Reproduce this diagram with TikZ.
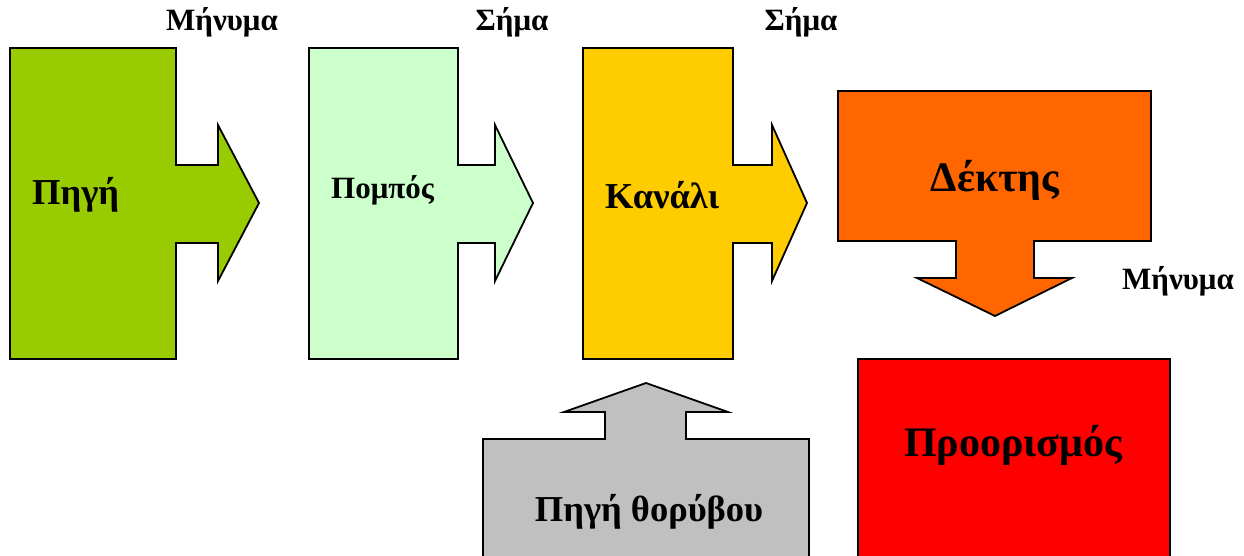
\documentclass[tikz,border=0pt]{standalone}
\usepackage{fontspec}
\setmainfont{Liberation Serif}
\begin{document}
\begin{tikzpicture}[x=1pt,y=-1pt,
  shp/.style={draw=black,line width=1.8pt,line join=miter},
  txt/.style={inner sep=0pt,font=\bfseries\fontsize{36.5}{40}\selectfont},
  lbl/.style={inner sep=0pt,font=\bfseries\fontsize{31}{34}\selectfont}]
\useasboundingbox (0,0) rectangle (1244,556);
\clip (0,0) rectangle (1244,556);
\definecolor{cgreen}{HTML}{99CC00}
\definecolor{clgreen}{HTML}{CCFFCC}
\definecolor{cyellow}{HTML}{FFCC00}
\definecolor{corange}{HTML}{FF6600}
\definecolor{cred}{HTML}{FF0000}
\definecolor{cgray}{HTML}{C0C0C0}
% source
\draw[shp,fill=cgreen] (10,48) -- (176,48) -- (176,165) -- (218,165) -- (218,125) -- (259,203) -- (218,281) -- (218,243) -- (176,243) -- (176,359) -- (10,359) -- cycle;
% transmitter
\draw[shp,fill=clgreen] (309,48) -- (458,48) -- (458,165) -- (495,165) -- (495,125) -- (533,203) -- (495,281) -- (495,243) -- (458,243) -- (458,359) -- (309,359) -- cycle;
% channel
\draw[shp,fill=cyellow] (583,48) -- (733,48) -- (733,165) -- (772,165) -- (772,125) -- (807,203) -- (772,281) -- (772,243) -- (733,243) -- (733,359) -- (583,359) -- cycle;
% receiver
\draw[shp,fill=corange] (838,91) -- (1151,91) -- (1151,241) -- (1034,241) -- (1034,278) -- (1072,278) -- (995,316) -- (917,278) -- (956,278) -- (956,241) -- (838,241) -- cycle;
% destination
\draw[shp,fill=cred] (858,359) rectangle (1170,600);
% noise source
\draw[shp,fill=cgray] (483,600) -- (483,439) -- (605,439) -- (605,412) -- (564,412) -- (646,383) -- (728,412) -- (686,412) -- (686,439) -- (809,439) -- (809,600) -- cycle;
% texts
\node[txt,anchor=west] (tpg) at (32,195) {Πηγή};
\node[inner sep=0pt,font=\bfseries\fontsize{31}{34}\selectfont,anchor=west] (tpm) at (331,190) {Πομπός};
\node[txt,anchor=west] (tkn) at (605,195) {Κανάλι};
\node[txt,font=\bfseries\fontsize{42}{46}\selectfont] (tdk) at (995,180) {Δέκτης};
\node[txt,font=\bfseries\fontsize{42}{46}\selectfont] (tpr) at (1013,445) {Προορισμός};
\node[txt] (tnz) at (649,512) {Πηγή θορύβου};
\node[lbl] (l1) at (222,22) {Μήνυμα};
\node[lbl] (l2) at (512,22) {Σήμα};
\node[lbl] (l3) at (801,22) {Σήμα};
\node[lbl] (l4) at (1178,281) {Μήνυμα};
\end{tikzpicture}
\end{document}
